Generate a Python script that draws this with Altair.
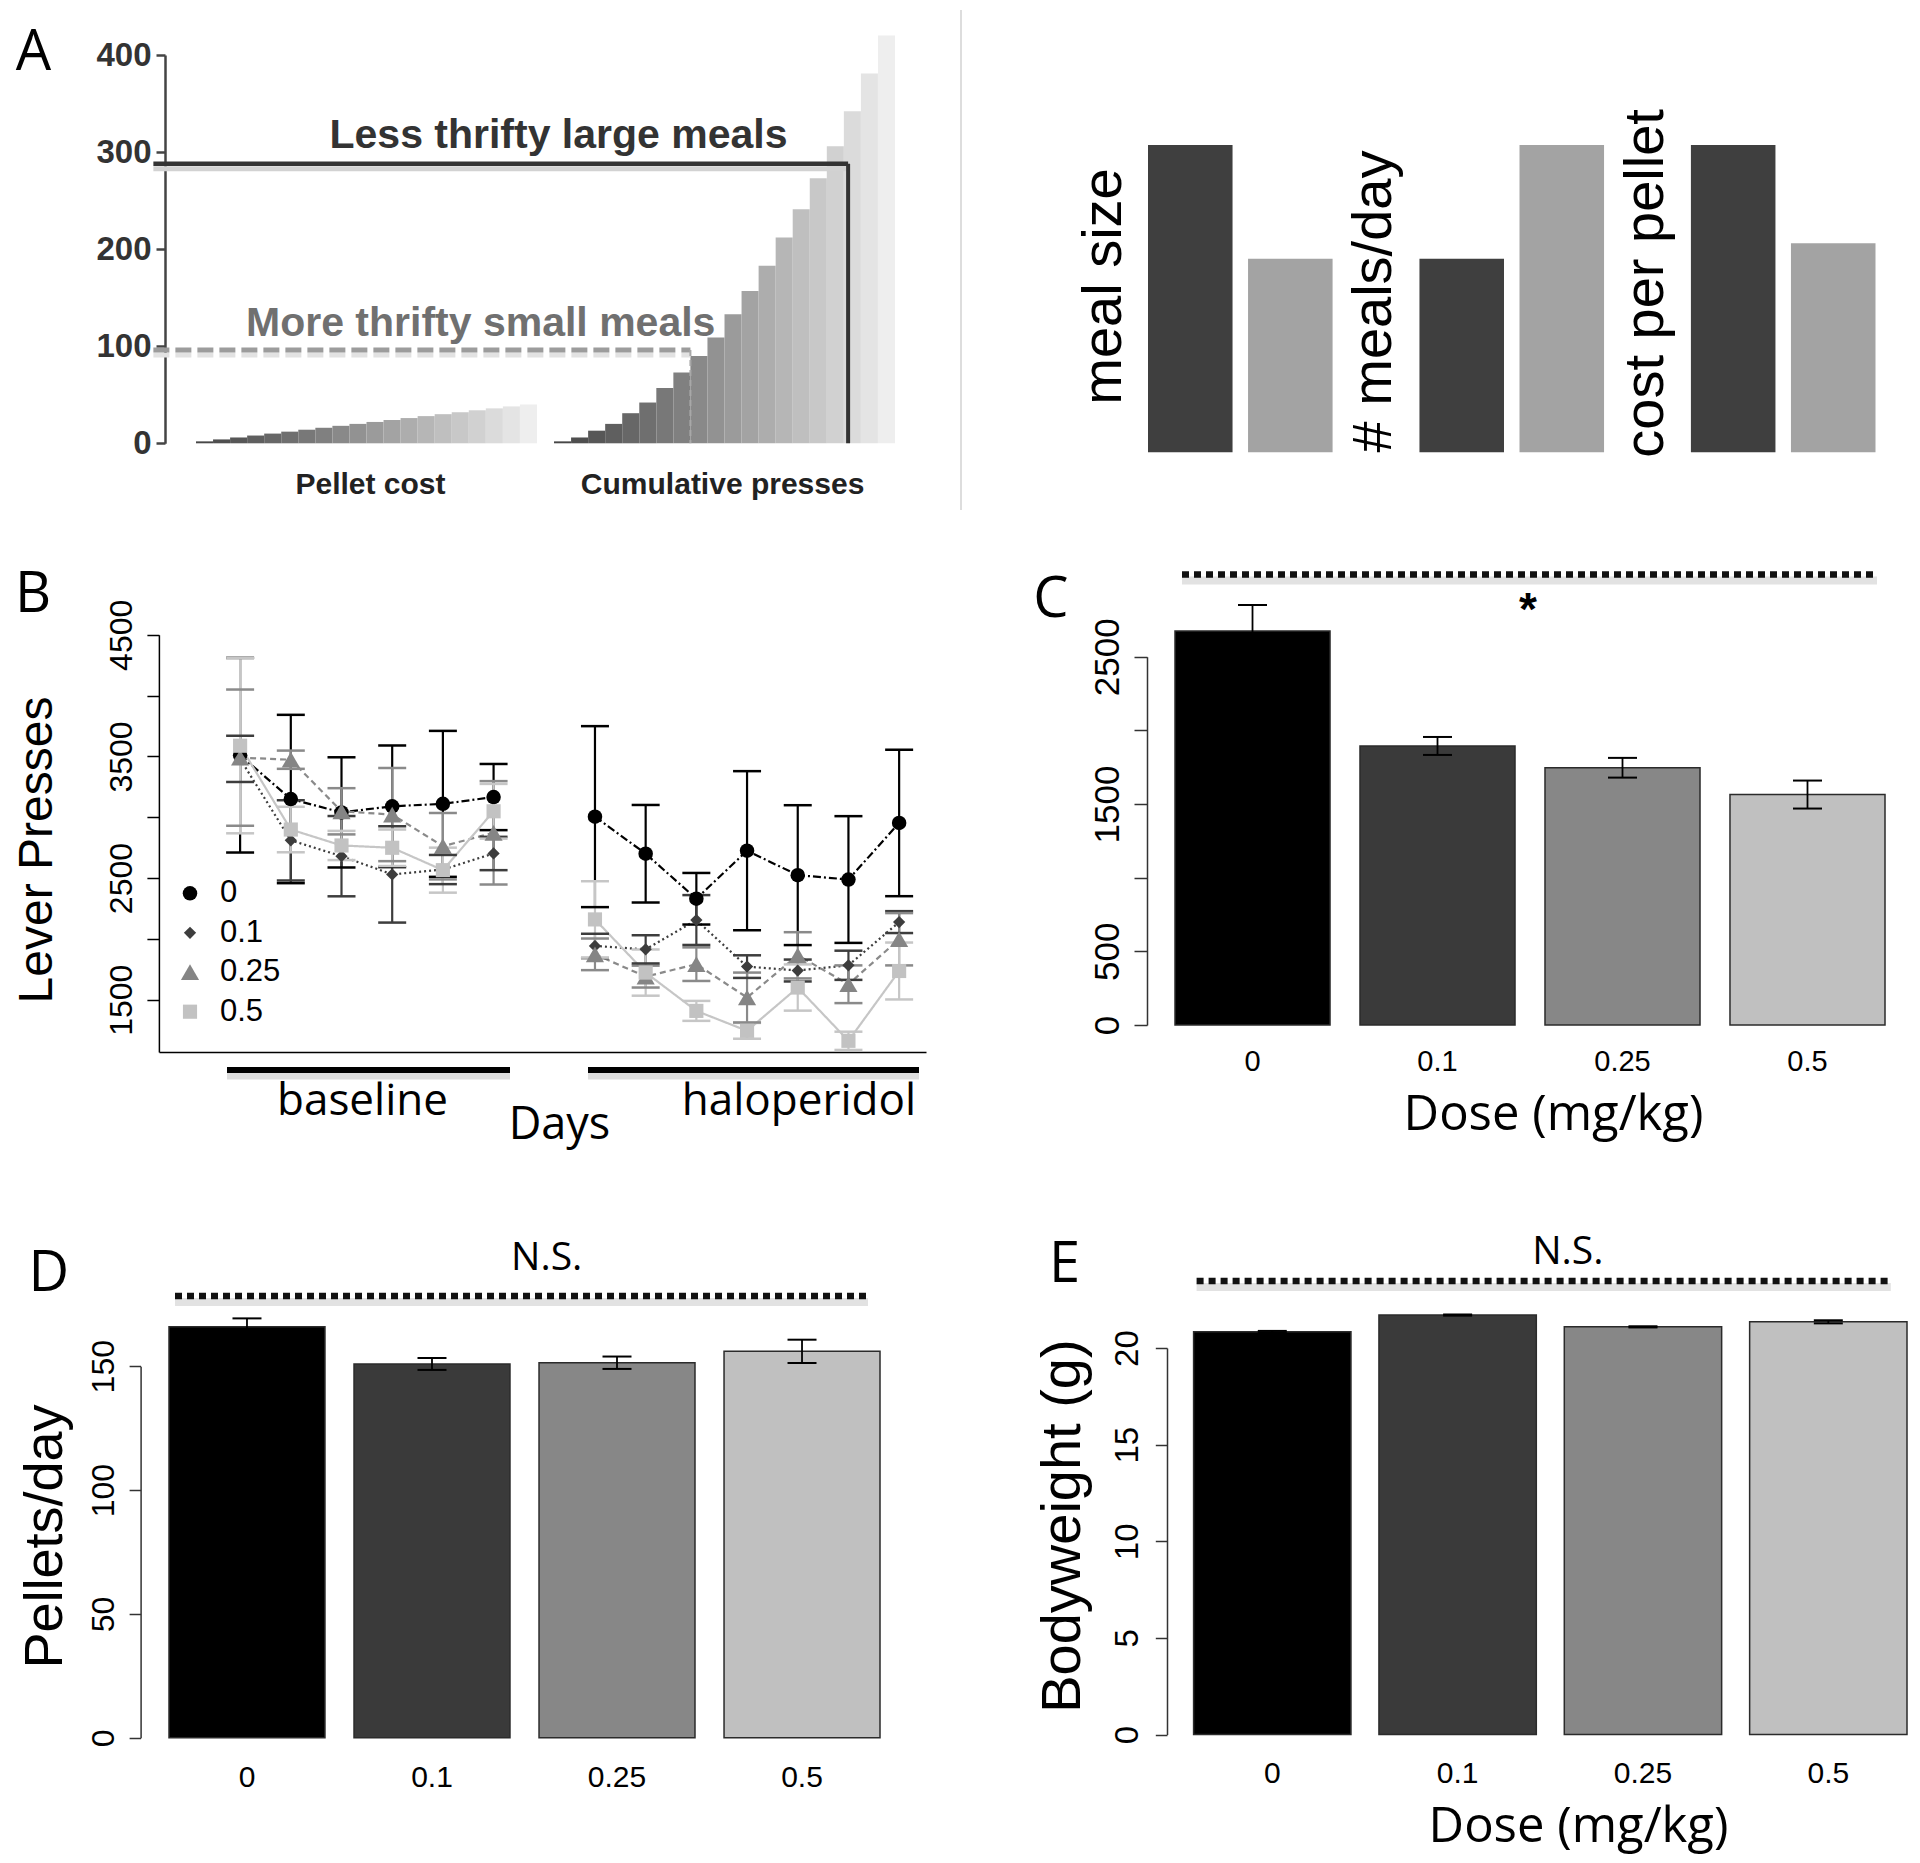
import altair as alt
import pandas as pd

# ============================ DATA ============================
doses = ["0", "0.1", "0.25", "0.5"]

# Panel A (schematic)
pellet_cost = [2, 4, 6, 8, 10, 12, 14, 16, 18, 20, 22, 24, 26, 28, 30, 32, 34, 36, 38, 40]
cumulative_presses = [2, 6, 13, 20, 31, 42, 57, 73, 90, 109, 133, 157, 183, 212, 241, 273, 306, 342, 381, 420]
large_meal_presses = 288
small_meal_presses = 96
large_meal_end_step = 38.25
small_meal_end_step = 29.0
threshold_line_start = -2.5

tradeoff_metrics = ["meal size", "# meals/day", "cost per pellet"]
tradeoff_patterns = ["large meals", "small meals"]
tradeoff_large_meals = [1.0, 0.63, 1.0]
tradeoff_small_meals = [0.63, 1.0, 0.68]

# Panel B
days = [1, 2, 3, 4, 5, 6, 8, 9, 10, 11, 12, 13, 14]
day_phase = ["baseline"] * 6 + ["haloperidol"] * 7
presses_dose_0 = [3510, 3150, 3040, 3090, 3110, 3166, 3005, 2700, 2330, 2725, 2524, 2488, 2953]
presses_dose_01 = [3480, 2810, 2680, 2530, 2570, 2702, 1942, 1914, 2155, 1772, 1740, 1783, 2138]
presses_dose_025 = [3490, 3473, 3049, 3022, 2762, 2872, 1873, 1690, 1792, 1518, 1865, 1627, 1997]
presses_dose_05 = [3588, 2899, 2768, 2749, 2565, 3049, 2160, 1723, 1408, 1244, 1600, 1162, 1736]
sem_dose_0 = [800, 692, 453, 500, 600, 272, 744, 401, 212, 654, 575, 521, 602]
sem_dose_01 = [190, 330, 330, 396, 120, 137, 100, 116, 205, 93, 90, 120, 90]
sem_dose_025 = [560, 75, 190, 383, 273, 425, 130, 90, 138, 205, 190, 155, 215]
sem_dose_05 = [720, 187, 120, 150, 185, 225, 314, 190, 82, 65, 190, 75, 234]

# Panels C, D, E
lever_presses_mean = [2674, 1894, 1746, 1564]
lever_presses_sem = [177, 61, 67, 95]
pellets_per_day_mean = [165.9, 150.9, 151.4, 156.0]
pellets_per_day_sem = [3.4, 2.4, 2.5, 4.7]
bodyweight_mean = [20.84, 21.71, 21.10, 21.36]
bodyweight_sem = [0.05, 0.03, 0.03, 0.08]

# ============================ LAYOUT ============================
W, H = 1904, 1847
M = 8


def px(v):
    return v - M


bar_colors = ["#000000", "#3a3a3a", "#878787", "#c0c0c0"]
line_colors = ["#000000", "#3d3d3d", "#8a8a8a", "#c6c6c6"]
point_fills = ["#000000", "#3d3d3d", "#858585", "#c2c2c2"]
point_shapes = ["circle", "diamond", "triangle-up", "square"]
point_sizes = [210, 150, 330, 200]
blank = pd.DataFrame({"k": [0]})


def note(text, x, y, size, font="Open Sans", weight="normal", color="black", angle=0, align="center"):
    return alt.Chart(blank).mark_text(
        text=text, font=font, fontSize=size, fontWeight=weight, color=color,
        angle=angle, align=align, baseline="middle"
    ).encode(x=alt.value(px(x)), y=alt.value(px(y)))


def hline(x1, x2, y, color, width, dash=None):
    kw = dict(color=color, strokeWidth=width, strokeCap="butt")
    if dash:
        kw["strokeDash"] = dash
    return alt.Chart(blank).mark_rule(**kw).encode(
        x=alt.value(px(x1)), x2=alt.value(px(x2)), y=alt.value(px(y)))


def vline(x, y1, y2, color, width):
    return alt.Chart(blank).mark_rule(color=color, strokeWidth=width).encode(
        x=alt.value(px(x)), y=alt.value(px(y1)), y2=alt.value(px(y2)))


layers = []

# ============================ PANEL A (left) ============================
stairs = pd.DataFrame({
    "pos": list(range(len(pellet_cost))) + list(range(len(pellet_cost) + 1, len(pellet_cost) + 1 + len(cumulative_presses))),
    "value": pellet_cost + cumulative_presses,
    "shade": list(range(len(pellet_cost))) + list(range(len(cumulative_presses))),
})
stairs["pos2"] = stairs["pos"] + 1
stairs["base"] = 0


def a_x():
    return alt.Scale(domain=[0, 41], range=[px(196), px(895)], nice=False, zero=False)


def a_y():
    return alt.Scale(domain=[0, 400], range=[px(443.3), px(55)], nice=False, zero=False)


a_y_axis = alt.Axis(
    orient="left", offset=-px(165), values=[0, 100, 200, 300, 400], format="d",
    tickSize=9, tickWidth=2.5, tickColor="#444", domainColor="#444", domainWidth=2.5,
    labelFont="Liberation Sans", labelFontSize=33, labelFontWeight="bold", labelColor="#333",
    labelPadding=5, labelAngle=0, labelAlign="right", labelBaseline="middle", grid=False, title=None)

layers.append(alt.Chart(stairs).mark_rect().encode(
    x=alt.X("pos:Q", scale=a_x(), axis=None),
    x2="pos2:Q",
    y=alt.Y("value:Q", scale=a_y(), axis=a_y_axis),
    y2="base:Q",
    color=alt.Color("shade:Q", scale=alt.Scale(domain=[0, 19], range=["#474747", "#eeeeee"]), legend=None),
))


def a_hrule(level, end, color, width, dash=None, yoff=0):
    df = pd.DataFrame({"pos": [threshold_line_start], "pos2": [end], "value": [level]})
    kw = dict(color=color, strokeWidth=width, yOffset=yoff, strokeCap="butt")
    if dash:
        kw["strokeDash"] = dash
    return alt.Chart(df).mark_rule(**kw).encode(
        x=alt.X("pos:Q", scale=a_x(), axis=None), x2="pos2:Q",
        y=alt.Y("value:Q", scale=a_y(), axis=None))


def a_vrule(level, at, color, width, dash=None):
    df = pd.DataFrame({"pos": [at], "value": [level], "base": [0]})
    kw = dict(color=color, strokeWidth=width)
    if dash:
        kw["strokeDash"] = dash
    return alt.Chart(df).mark_rule(**kw).encode(
        x=alt.X("pos:Q", scale=a_x(), axis=None),
        y=alt.Y("value:Q", scale=a_y(), axis=None), y2="base:Q")


layers += [
    a_hrule(large_meal_presses, large_meal_end_step, "#d2d2d2", 5, yoff=5),
    a_hrule(small_meal_presses, small_meal_end_step, "#e2e2e2", 5, dash=[16, 6], yoff=5),
    a_hrule(small_meal_presses, small_meal_end_step, "#9c9c9c", 5, dash=[16, 6]),
    a_vrule(small_meal_presses, small_meal_end_step, "#a8a8a8", 2, dash=[6, 4]),
    a_hrule(large_meal_presses, large_meal_end_step, "#333333", 4.5),
    a_vrule(large_meal_presses, large_meal_end_step, "#333333", 4),
]

# ============================ PANEL A (right) ============================
tradeoff = pd.DataFrame({
    "metric": tradeoff_metrics * 2,
    "pattern": [tradeoff_patterns[0]] * 3 + [tradeoff_patterns[1]] * 3,
    "value": tradeoff_large_meals + tradeoff_small_meals,
})
layers.append(alt.Chart(tradeoff).mark_bar().encode(
    x=alt.X("metric:N", sort=tradeoff_metrics,
            scale=alt.Scale(domain=tradeoff_metrics, range=[px(1148), px(1875.5)], paddingInner=0.32, paddingOuter=0),
            axis=None),
    xOffset=alt.XOffset("pattern:N", sort=tradeoff_patterns,
                        scale=alt.Scale(domain=tradeoff_patterns, paddingInner=0.155, paddingOuter=0)),
    y=alt.Y("value:Q", scale=alt.Scale(domain=[0, 1], range=[px(452.3), px(145)], nice=False), axis=None),
    color=alt.Color("pattern:N", scale=alt.Scale(domain=tradeoff_patterns, range=["#3f3f3f", "#a3a3a3"]), legend=None),
))

# ============================ PANEL B ============================
rows = []
for dose, means, sems in zip(doses,
                             [presses_dose_0, presses_dose_01, presses_dose_025, presses_dose_05],
                             [sem_dose_0, sem_dose_01, sem_dose_025, sem_dose_05]):
    for d, ph, m, s in zip(days, day_phase, means, sems):
        rows.append({"dose": dose, "day": d, "phase": ph, "mean": m, "lo": m - s, "hi": m + s})
b_df = pd.DataFrame(rows)


def b_x():
    return alt.Scale(domain=[-0.6, 14.53], range=[px(159), px(926)], nice=False, zero=False)


def b_y():
    return alt.Scale(domain=[1070, 4500], range=[px(1052), px(634.8)], nice=False, zero=False)


def b_color():
    return alt.Color("dose:N", scale=alt.Scale(domain=doses, range=line_colors), legend=None)


def b_fill():
    return alt.Fill("dose:N", scale=alt.Scale(domain=doses, range=point_fills), legend=None)


def b_shape():
    return alt.Shape("dose:N", scale=alt.Scale(domain=doses, range=point_shapes), legend=None)


def b_size():
    return alt.Size("dose:N", scale=alt.Scale(type="ordinal", domain=doses, range=point_sizes), legend=None)


b_x_axis = alt.Axis(
    orient="bottom", offset=px(1052) - H, labels=False, ticks=False, tickSize=0,
    domain=True, domainColor="black", domainWidth=1.5, grid=False,
    title="Days", titleFont="Open Sans", titleFontSize=45, titleFontWeight="normal", titleColor="black",
    titleX=px(559), titleY=72.8, titleAlign="center", titleBaseline="middle", titleAngle=0)
b_y_axis = alt.Axis(
    orient="left", offset=-px(158.9), values=[1500, 2000, 2500, 3000, 3500, 4000, 4500], format="d",
    labelExpr="(datum.value % 1000 == 500) ? datum.label : ''",
    labelAngle=270, labelAlign="center", labelBaseline="bottom",
    labelFont="Liberation Sans", labelFontSize=32, labelColor="black", labelPadding=8.7,
    tickSize=12, tickWidth=1.5, tickColor="black", domainColor="black", domainWidth=1.5, grid=False,
    title="Lever Presses", titleFont="Liberation Sans", titleFontSize=48, titleFontWeight="normal",
    titleColor="black", titleAngle=270, titleX=37.5 - 158.9, titleY=px(849.5),
    titleAlign="center", titleBaseline="middle")

b_base = alt.Chart(b_df)
layers.append(b_base.mark_line(strokeWidth=2.2).encode(
    x=alt.X("day:Q", scale=b_x(), axis=None),
    y=alt.Y("mean:Q", scale=b_y(), axis=None),
    color=b_color(),
    strokeDash=alt.StrokeDash("dose:N", scale=alt.Scale(domain=doses, range=[[8, 3, 2, 3], [2, 3], [6, 4], [1, 0]]), legend=None),
    detail="phase:N",
))
layers.append(b_base.mark_rule(strokeWidth=2.2).encode(
    x=alt.X("day:Q", scale=b_x(), axis=None),
    y=alt.Y("lo:Q", scale=b_y(), axis=None), y2="hi:Q",
    color=b_color(),
))
for fld in ["hi", "lo"]:
    layers.append(b_base.mark_tick(orient="horizontal", size=28, thickness=2.5, opacity=1).encode(
        x=alt.X("day:Q", scale=b_x(), axis=None),
        y=alt.Y(fld + ":Q", scale=b_y(), axis=None),
        color=b_color(),
    ))
layers.append(b_base.mark_point(filled=True, opacity=1, strokeWidth=0).encode(
    x=alt.X("day:Q", scale=b_x(), axis=b_x_axis),
    y=alt.Y("mean:Q", scale=b_y(), axis=b_y_axis),
    fill=b_fill(), shape=b_shape(), size=b_size(),
))

# legend of panel B, drawn with the same fill / shape / size scales
legend_df = pd.DataFrame({"dose": doses})


def legend_y():
    return alt.Y("dose:N", sort=doses,
                 scale=alt.Scale(type="point", domain=doses, range=[px(893.3), px(1011.7)], padding=0),
                 axis=None)


layers.append(alt.Chart(legend_df).mark_point(filled=True, opacity=1, strokeWidth=0).encode(
    x=alt.value(px(190)), y=legend_y(), fill=b_fill(), shape=b_shape(), size=b_size()))
layers.append(alt.Chart(legend_df).mark_text(
    font="Liberation Sans", fontSize=31, align="left", baseline="middle", color="black").encode(
    x=alt.value(px(220)), y=legend_y(), text="dose:N"))


# ============================ PANELS C, D, E ============================
def bar_panel(means, sems, x_left, x_right, pad_inner, y_domain, y_bottom, y_top, y_axis, x_axis):
    df = pd.DataFrame({
        "dose": doses, "mean": means,
        "lo": [m - s for m, s in zip(means, sems)],
        "hi": [m + s for m, s in zip(means, sems)],
    })

    def xs():
        return alt.Scale(domain=doses, range=[px(x_left), px(x_right)], paddingInner=pad_inner, paddingOuter=0)

    def ys():
        return alt.Scale(domain=y_domain, range=[px(y_bottom), px(y_top)], nice=False, zero=True)

    base = alt.Chart(df)
    out = [base.mark_bar(stroke="#2b2b2b", strokeWidth=1.5).encode(
        x=alt.X("dose:N", sort=doses, scale=xs(), axis=x_axis),
        y=alt.Y("mean:Q", scale=ys(), axis=y_axis),
        color=alt.Color("dose:N", scale=alt.Scale(domain=doses, range=bar_colors), legend=None),
    )]
    out.append(base.mark_rule(color="black", strokeWidth=1.8).encode(
        x=alt.X("dose:N", sort=doses, scale=xs(), axis=None),
        y=alt.Y("lo:Q", scale=ys(), axis=None), y2="hi:Q"))
    for fld in ["hi", "lo"]:
        out.append(base.mark_tick(orient="horizontal", size=29, thickness=2, color="black", opacity=1).encode(
            x=alt.X("dose:N", sort=doses, scale=xs(), axis=None),
            y=alt.Y(fld + ":Q", scale=ys(), axis=None)))
    return out


def y_axis_r(axis_x, values, size, tick, pad, hide=None, title=None, title_size=50, title_x=0, title_y=0):
    expr = "datum.label"
    if hide:
        expr = "(" + " || ".join("datum.value == %s" % h for h in hide) + ") ? '' : datum.label"
    kw = dict(
        orient="left", offset=-px(axis_x), values=values, format="d", labelExpr=expr,
        labelAngle=270, labelAlign="center", labelBaseline="bottom",
        labelFont="Liberation Sans", labelFontSize=size, labelColor="black", labelPadding=pad,
        tickSize=tick, tickWidth=1.5, tickColor="#333", domainColor="#333", domainWidth=1.5, grid=False)
    if title:
        kw.update(title=title, titleFont="Liberation Sans", titleFontSize=title_size, titleFontWeight="normal",
                  titleColor="black", titleAngle=270, titleX=title_x, titleY=title_y,
                  titleAlign="center", titleBaseline="middle")
    else:
        kw["title"] = None
    return alt.Axis(**kw)


def x_axis_r(axis_y, pad, label_size, title=None, title_x=0, title_y=0):
    kw = dict(
        orient="bottom", offset=px(axis_y) - H, domain=False, ticks=False, tickSize=0,
        labelAngle=0, labelFont="Liberation Sans", labelFontSize=label_size, labelColor="black",
        labelBaseline="middle", labelAlign="center", labelPadding=pad, grid=False)
    if title:
        kw.update(title=title, titleFont="Open Sans", titleFontSize=49, titleFontWeight="normal",
                  titleColor="black", titleX=title_x, titleY=title_y, titleAlign="center",
                  titleBaseline="middle", titleAngle=0)
    else:
        kw["title"] = None
    return alt.Axis(**kw)


layers += bar_panel(
    lever_presses_mean, lever_presses_sem, 1175, 1885, 0.162, [0, 2500], 1024.9, 656.7,
    y_axis_r(1147, [0, 500, 1000, 1500, 2000, 2500], 35, 13, 8.5, hide=[1000, 2000]),
    x_axis_r(1024.9, 36.7, 29, "Dose (mg/kg)", px(1553), 89.9))

layers += bar_panel(
    pellets_per_day_mean, pellets_per_day_sem, 169, 880, 0.157, [0, 150], 1737.8, 1366.2,
    y_axis_r(140.6, [0, 50, 100, 150], 32, 11.5, 9, title="Pellets/day", title_size=54,
             title_x=45 - 140.6, title_y=px(1536)),
    x_axis_r(1737.8, 39.9, 30))

layers += bar_panel(
    bodyweight_mean, bodyweight_sem, 1193.6, 1907, 0.151, [0, 20], 1734.5, 1348.1,
    y_axis_r(1167, [0, 5, 10, 15, 20], 33, 11.7, 10.6, title="Bodyweight (g)", title_size=56,
             title_x=1062.2 - 1167, title_y=px(1525.6)),
    x_axis_r(1734.5, 38.5, 30, "Dose (mg/kg)", px(1578), 91.8))

# ============================ ANNOTATIONS ============================
dots = [7, 5]
layers += [
    vline(961, 10, 510, "#dddddd", 2),
    # significance brackets (shadow + dotted line)
    hline(1182, 1877, 580.4, "#e2e2e2", 8),
    hline(1182, 1877, 574.4, "#111111", 6.5, dots),
    hline(175, 868, 1302, "#e2e2e2", 8),
    hline(175, 868, 1296, "#111111", 6.5, dots),
    hline(1196.6, 1890.8, 1287, "#e2e2e2", 8),
    hline(1196.6, 1890.8, 1281, "#111111", 6.5, dots),
    # phase bars in B
    hline(227, 510, 1076, "#dddddd", 7),
    hline(227, 510, 1070, "#000000", 6),
    hline(588, 919, 1076, "#dddddd", 7),
    hline(588, 919, 1070, "#000000", 6),
    # panel letters
    note("A", 33.5, 53.2, 56),
    note("B", 33, 595.2, 56),
    note("C", 1051, 599.7, 56),
    note("D", 48.8, 1274.2, 56),
    note("E", 1064.5, 1265.2, 56),
    # panel A texts
    note("Less thrifty large meals", 558.5, 136, 41, font="Liberation Sans", weight="bold", color="#333333"),
    note("More thrifty small meals", 480.7, 324, 41, font="Liberation Sans", weight="bold", color="#707070"),
    note("Pellet cost", 370.5, 484.5, 30, font="Liberation Sans", weight="bold", color="#222222"),
    note("Cumulative presses", 722.6, 484.5, 30, font="Liberation Sans", weight="bold", color="#222222"),
    note("meal size", 1104, 286.5, 56, font="Liberation Sans", angle=270),
    note("# meals/day", 1374, 301.5, 56, font="Liberation Sans", angle=270),
    note("cost per pellet", 1646, 283.4, 56, font="Liberation Sans", angle=270),
    # panel B texts
    note("baseline", 362.5, 1101.8, 44),
    note("haloperidol", 798.9, 1101.8, 44),
    # significance labels
    note("*", 1528, 611, 46, font="Liberation Sans", weight="bold"),
    note("N.S.", 546.7, 1258.3, 39),
    note("N.S.", 1567.8, 1251.7, 39),
]

chart = alt.layer(*layers).properties(
    width=W, height=H, padding=0, autosize=alt.AutoSizeParams(type="none")
).resolve_scale(
    x="independent", y="independent", color="independent", fill="independent",
    shape="independent", size="independent", strokeDash="independent", xOffset="independent"
).configure_view(stroke=None)

chart.save("out.html", embed_options={"renderer": "svg", "actions": False})
